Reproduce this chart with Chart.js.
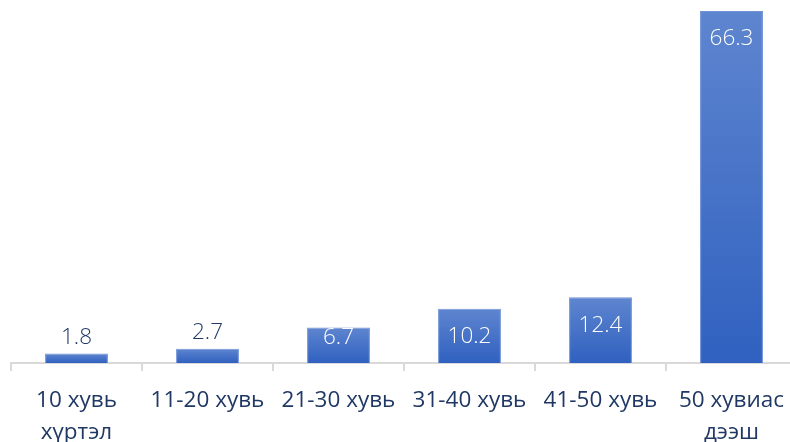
<!DOCTYPE html>
<html><head><meta charset="utf-8">
<script src="https://cdn.jsdelivr.net/npm/chart.js@4/dist/chart.umd.min.js"></script>
<style>
html,body{margin:0;padding:0;background:#fff;}
#wrap{width:790px;height:442px;overflow:hidden;position:relative;}
#c{position:absolute;left:0;top:0;}
</style></head>
<body><div id="wrap"><canvas id="c" width="800" height="442"></canvas></div>
<script>
const categories = [["10 хувь","хүртэл"],"11-20 хувь","21-30 хувь","31-40 хувь","41-50 хувь",["50 хувиас","дээш"]];
const values = [1.8, 2.7, 6.7, 10.2, 12.4, 66.3];
const valueLabels = ["1.8","2.7","6.7","10.2","12.4","66.3"];

const FONT = "'Open Sans', 'DejaVu Sans', sans-serif";

const labelPlugin = {
  id: 'valueLabels',
  afterDatasetsDraw(chart) {
    const ctx = chart.ctx;
    const meta = chart.getDatasetMeta(0);
    ctx.save();
    ctx.font = "300 22.5px " + FONT;
    ctx.textAlign = 'center';
    ctx.textBaseline = 'middle';
    meta.data.forEach((bar, i) => {
      const top = bar.y, base = bar.base;
      const h = base - top;
      let y, color;
      if (h < 30) { y = top - 16; color = '#203864'; }
      else { y = h >= 50 ? top + 28 : base - 25; color = '#ffffff'; }
      ctx.fillStyle = color;
      ctx.fillText(valueLabels[i], bar.x, y);
    });
    ctx.restore();
  }
};

new Chart(document.getElementById('c'), {
  type: 'bar',
  data: {
    labels: categories,
    datasets: [{
      data: values,
      backgroundColor: (c) => {
        const chart = c.chart;
        if (!chart.chartArea || c.raw === undefined) return '#4472c4';
        const ys = chart.scales.y;
        const top = ys.getPixelForValue(c.raw), bot = ys.getPixelForValue(0);
        const g = chart.ctx.createLinearGradient(0, top, 0, bot);
        g.addColorStop(0, '#5e85cf');
        g.addColorStop(1, '#3061c0');
        return g;
      },
      borderColor: '#6f92d6',
      borderWidth: 1,
      categoryPercentage: 1,
      barPercentage: 0.48
    }]
  },
  options: {
    responsive: false,
    animation: false,
    layout: { padding: { left: 11, right: 3, top: 0, bottom: 0 } },
    plugins: { legend: { display: false }, tooltip: { enabled: false } },
    scales: {
      y: { display: false, min: 0, max: 68.37 },
      x: {
        grid: { offset: true, drawOnChartArea: false, drawTicks: true, tickLength: 8, color: '#d9d9d9', lineWidth: 2 },
        border: { color: '#d9d9d9', width: 2 },
        ticks: { color: '#203864', font: { family: FONT, size: 22.5, lineHeight: 1.45 }, padding: 13, maxRotation: 0, autoSkip: false },
        afterFit: (s) => { s.height = 79; }
      }
    }
  },
  plugins: [labelPlugin]
});
</script></body></html>
